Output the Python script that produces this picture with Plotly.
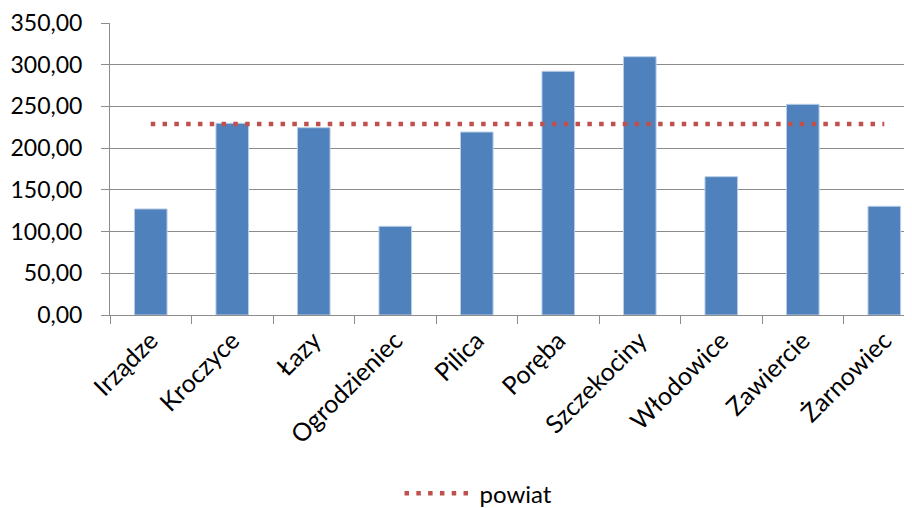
import plotly.graph_objects as go

categories = ["Irządze", "Kroczyce", "Łazy", "Ogrodzieniec", "Pilica", "Poręba",
              "Szczekociny", "Włodowice", "Zawiercie", "Żarnowiec"]
gminy_values = [127.1, 229.8, 224.5, 106.3, 219.3, 292.1, 309.6, 165.8, 252.5, 130.3]
powiat_value = 228.9
powiat_values = [powiat_value] * len(categories)
y_ticks = [0, 50, 100, 150, 200, 250, 300, 350]

FONT = "Lato"

fig = go.Figure()
fig.add_trace(go.Bar(
    x=categories, y=gminy_values, name="gminy", showlegend=False,
    marker=dict(color="#4F81BD", line=dict(color="#B9CDE5", width=1)),
    width=0.4,
))
fig.add_trace(go.Scatter(
    x=categories, y=powiat_values, name="powiat", mode="lines",
    line=dict(color="#C0504D", width=4.5, dash="4.5px,7.3px"),
))

fig.update_layout(
    width=904, height=500,
    margin=dict(l=102, r=0, t=15, b=193, autoexpand=False),
    paper_bgcolor="white", plot_bgcolor="white",
    separators=", ",
    font=dict(family=FONT, size=22, color="#000000"),
    showlegend=True,
    legend=dict(orientation="h", x=0.361, xanchor="left", y=-0.612, yanchor="middle",
                font=dict(family=FONT, size=24, color="#000000"),
                itemwidth=70, bgcolor="rgba(0,0,0,0)"),
    bargap=0.6,
)
fig.update_xaxes(
    type="category", range=[-0.5, 9.34], automargin=False,
    showline=True, linecolor="#8C8C8C", linewidth=1,
    ticks="outside", tickson="boundaries", ticklen=8, tickcolor="#8C8C8C",
    tickangle=-45, showgrid=False,
    tickfont=dict(family=FONT, size=25, color="#000000"),
)
fig.update_yaxes(
    range=[0, 350], tickvals=y_ticks, tickformat=".2f", automargin=False,
    showline=True, linecolor="#8C8C8C", linewidth=1,
    ticks="outside", ticklen=8, tickcolor="#8C8C8C",
    showgrid=True, gridcolor="#8C8C8C", gridwidth=1,
    zeroline=False, ticklabelstandoff=14,
    tickfont=dict(family=FONT, size=23, color="#000000"),
)

fig.write_html("out.html")
